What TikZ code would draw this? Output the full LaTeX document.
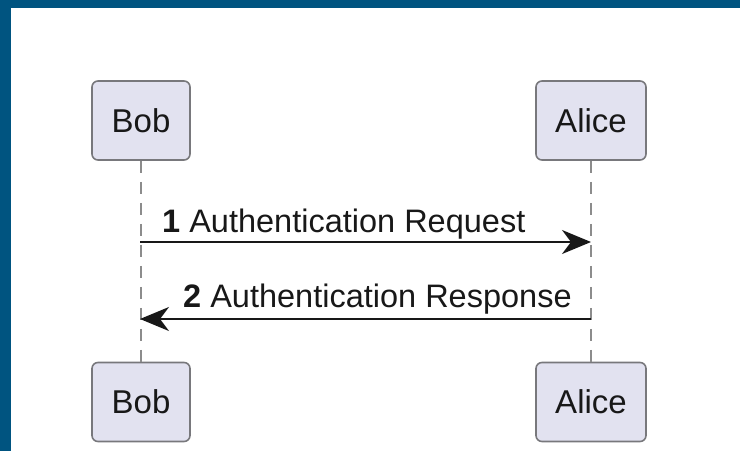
\documentclass[tikz,border=0pt]{standalone}
\usepackage{fontspec}
\setmainfont{Liberation Sans}
\usetikzlibrary{arrows.meta}
\definecolor{frameblue}{RGB}{0,84,128}
\definecolor{partfill}{RGB}{226,226,240}
\definecolor{partedge}{RGB}{120,120,124}
\definecolor{ink}{RGB}{24,24,24}
\definecolor{lifegray}{RGB}{140,140,140}
\tikzset{
  participant/.style={draw=partedge, fill=partfill, line width=1.6pt,
    rounded corners=6pt, minimum height=79pt, inner sep=0pt,
    text=ink, font=\fontsize{33}{40}\selectfont},
  lifeline/.style={draw=lifegray, line width=1.4pt, dash pattern=on 12pt off 9pt},
  message/.style={draw=ink, line width=2pt,
    -{Stealth[length=29pt, width=24pt, inset=9pt]}},
  msglabel/.style={anchor=base west, inner sep=0pt, text=ink,
    font=\fontsize{32.5}{38}\selectfont}
}
\begin{document}
\begin{tikzpicture}[x=1pt, y=-1pt]
  \useasboundingbox (0,0) rectangle (740,451);
  % frame edges
  \fill[frameblue] (0,0) rectangle (740,8);
  \fill[frameblue] (0,0) rectangle (11,451);

  % participants
  \node[participant, minimum width=98pt]  (bobtop)   at (141,120.5) {Bob};
  \node[participant, minimum width=110pt] (alicetop) at (591,120.5) {Alice};
  \node[participant, minimum width=98pt]  (bobbot)   at (141,402) {Bob};
  \node[participant, minimum width=110pt] (alicebot) at (591,402) {Alice};

  % lifelines
  \draw[lifeline] (bobtop) -- (bobbot);
  \draw[lifeline] (alicetop) -- (alicebot);

  % message end points on the lifelines
  \coordinate (reqfrom) at (140,242);
  \coordinate (reqto)   at (591,242);
  \coordinate (resfrom) at (591,319);
  \coordinate (resto)   at (140,319);

  % messages
  \draw[message] (reqfrom) -- (reqto);
  \node[msglabel] (reqlabel) at (162,232) {\textbf{1} Authentication Request};
  \draw[message] (resfrom) -- (resto);
  \node[msglabel] (reslabel) at (183,307) {\textbf{2} Authentication Response};
\end{tikzpicture}
\end{document}
